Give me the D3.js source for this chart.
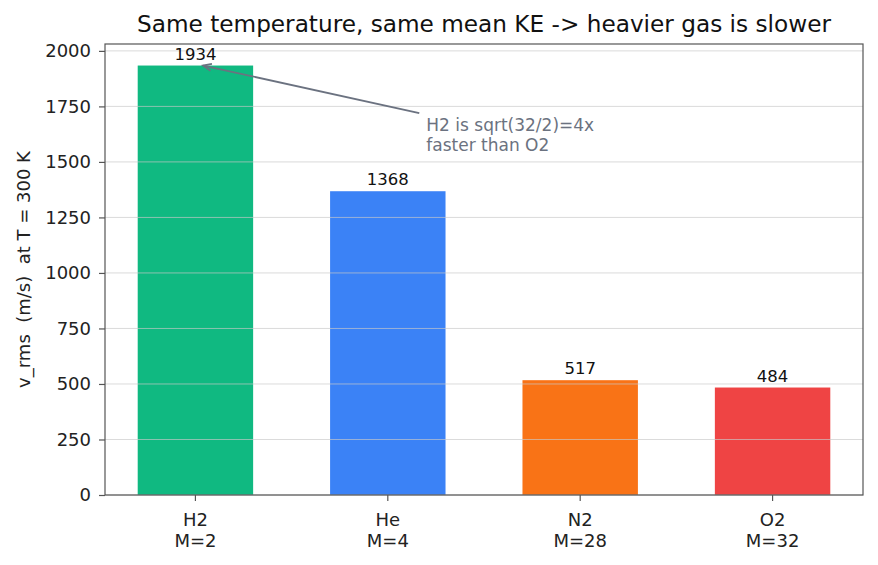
<!DOCTYPE html>
<html><head><meta charset="utf-8">
<script src="https://cdn.jsdelivr.net/npm/d3@7"></script>
<style>body{margin:0;background:#fff}svg{display:block;font-family:"DejaVu Sans",sans-serif}text{white-space:pre}</style>
</head><body><svg id="c" width="878" height="565"></svg>
<script>
const gases = ["H2","He","N2","O2"];
const molarMass = [2,4,28,32];
const vrms = [1934,1368,517,484];
const colors = ["#10b981","#3b82f6","#f97316","#ef4444"];
const yTicks = [0,250,500,750,1000,1250,1500,1750,2000];
const title = "Same temperature, same mean KE -> heavier gas is slower";
const yLabel = "v_rms  (m/s)  at T = 300 K";
const noteLines = ["H2 is sqrt(32/2)=4x","faster than O2"];

const svg = d3.select("#c");
const L=105,R=863,T=44,B=495;
const x = d3.scaleBand().domain(gases).range([L,R]).paddingInner(0.4).paddingOuter(0.17);
const y = d3.scaleLinear().domain([0,2031]).range([B,T]);
const xc = i => x(gases[i]) + x.bandwidth()/2;
const xu = v => xc(0) + v*x.step();

// bars
svg.append("g").selectAll("rect").data(vrms).join("rect")
  .attr("x",(d,i)=>x(gases[i])).attr("width",x.bandwidth())
  .attr("y",d=>y(d)).attr("height",d=>B-y(d)).attr("fill",(d,i)=>colors[i]);

// grid
svg.append("g").selectAll("line").data(yTicks).join("line")
  .attr("x1",L).attr("x2",R).attr("y1",d=>y(d)).attr("y2",d=>y(d))
  .attr("stroke","#c8c8c8").attr("stroke-opacity",0.75).attr("stroke-width",0.9);

// value labels
svg.append("g").selectAll("text").data(vrms).join("text")
  .attr("x",(d,i)=>xc(i)).attr("y",d=>y(d)-6).attr("text-anchor","middle")
  .attr("font-size",16.5).attr("fill","#111").text(d=>d);

// axes
const yAxis = d3.axisLeft(y).tickValues(yTicks).tickFormat(d3.format("d")).tickSize(6).tickPadding(8);
const gy = svg.append("g").attr("transform",`translate(${L},0)`).call(yAxis);
gy.select(".domain").remove();
gy.selectAll("line").attr("stroke","#555").attr("stroke-width",1.2);
gy.selectAll("text").attr("font-size",18).attr("fill","#222").attr("font-family","DejaVu Sans");

const xAxis = d3.axisBottom(x).tickSize(6).tickFormat("");
const gx = svg.append("g").attr("transform",`translate(0,${B})`).call(xAxis);
gx.select(".domain").remove();
gx.selectAll("line").attr("stroke","#555").attr("stroke-width",1.2);
gx.selectAll(".tick").each(function(d,i){
  const t = d3.select(this).append("text").attr("text-anchor","middle")
    .attr("font-size",18).attr("fill","#222").attr("font-family","DejaVu Sans");
  t.append("tspan").attr("x",0).attr("y",31).text(gases[i]);
  t.append("tspan").attr("x",0).attr("y",52).text("M="+molarMass[i]);
});

// frame
svg.append("rect").attr("x",L).attr("y",T).attr("width",R-L).attr("height",B-T)
  .attr("fill","none").attr("stroke","#555").attr("stroke-width",1.2);

// title & y label
svg.append("text").attr("x",(L+R)/2).attr("y",32).attr("text-anchor","middle")
  .attr("font-size",23.2).attr("fill","#111").text(title);
svg.append("text").attr("transform",`translate(30,${(T+B)/2}) rotate(-90)`)
  .attr("text-anchor","middle").attr("font-size",18).attr("fill","#222").text(yLabel);

// annotation
const ax0 = xu(1.2)-7, ay0 = y(1720);
const ax1 = xu(0.04), ay1 = y(1934);
svg.append("line").attr("x1",ax0).attr("y1",ay0).attr("x2",ax1).attr("y2",ay1)
  .attr("stroke","#6b7280").attr("stroke-width",1.8);
const ang = Math.atan2(ay0-ay1, ax0-ax1);
const hl=9, ha=0.4;
svg.append("path").attr("d",`M${ax1+hl*Math.cos(ang+ha)},${ay1+hl*Math.sin(ang+ha)}L${ax1},${ay1}L${ax1+hl*Math.cos(ang-ha)},${ay1+hl*Math.sin(ang-ha)}`)
  .attr("fill","none").attr("stroke","#6b7280").attr("stroke-width",1.8);
const nt = svg.append("text").attr("font-size",17).attr("fill","#6b7280");
noteLines.forEach((s,i)=>nt.append("tspan").attr("x",xu(1.2)).attr("y",131+i*19.5).text(s));
</script></body></html>
